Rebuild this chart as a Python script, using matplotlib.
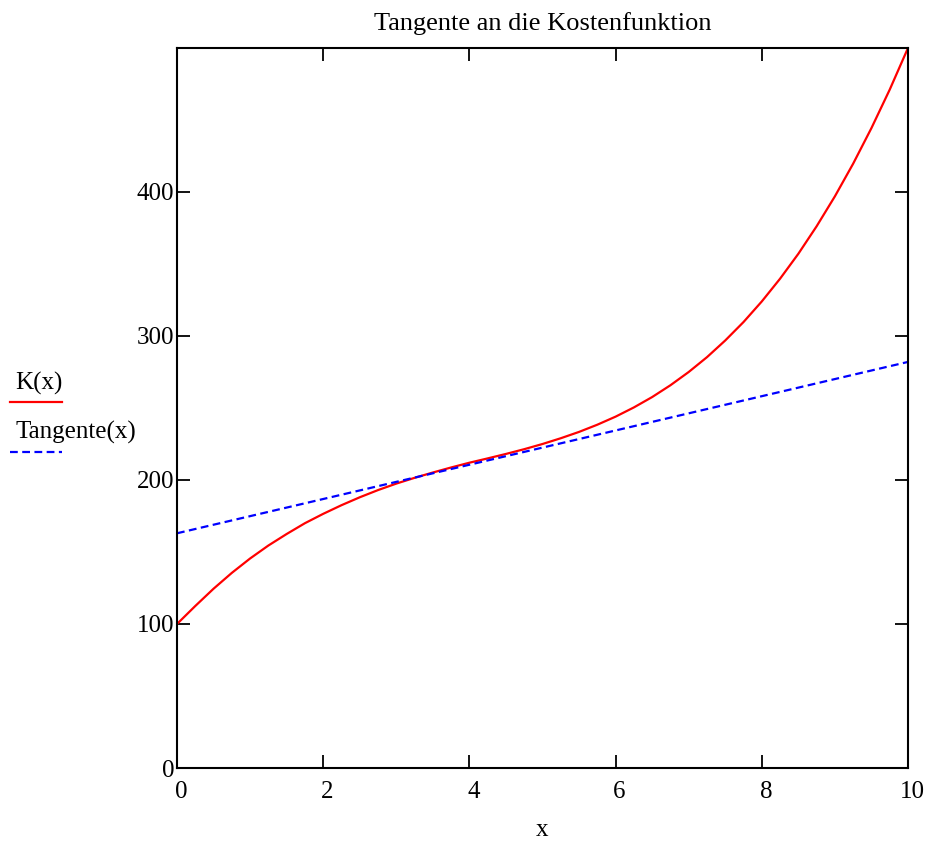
import numpy as np
import matplotlib.pyplot as plt
import matplotlib.transforms as mtransforms

plt.rcParams['font.family'] = ['Liberation Serif', 'DejaVu Serif']

# values
x_vals = [0, 0.25, 0.5, 0.75, 1, 1.25, 1.5, 1.75, 2, 2.25, 2.5, 2.75, 3, 3.25,
          3.5, 3.75, 4, 4.25, 4.5, 4.75, 5, 5.25, 5.5, 5.75, 6, 6.25, 6.5, 6.75,
          7, 7.25, 7.5, 7.75, 8, 8.25, 8.5, 8.75, 9, 9.25, 9.5, 9.75, 10]
k_vals = [100, 112.5, 124.5, 135.5, 145.5, 154.5, 162.5, 170, 176.5, 182.5,
          188, 193, 197.5, 201.5, 205.2, 208.7, 212, 215, 218.1, 221.4, 225,
          229, 233.4, 238.4, 244, 250.4, 257.6, 265.8, 275, 285.3, 296.9,
          309.7, 324, 339.8, 357.1, 376.2, 397, 419.7, 444.4, 471.1, 500]
tan_x = [0, 10]
tan_vals = [163, 282]

x_ticks = [0, 2, 4, 6, 8, 10]
y_ticks = [0, 100, 200, 300, 400]

fig = plt.figure(figsize=(9.29, 8.46), dpi=100)
ax = fig.add_axes([177/929, 1 - 768/846, 731/929, 720/846])

ax.plot(x_vals, k_vals, color='red', lw=1.6)
ax.plot(tan_x, tan_vals, color='blue', lw=1.6, ls=(0, (3.5, 2)))

ax.set_xlim(0, 10)
ax.set_ylim(0, 500)
ax.set_xticks(x_ticks)
ax.set_yticks(y_ticks)
ax.tick_params(direction='in', length=9.5, width=1.3, top=True, right=True,
               labelsize=18, colors='black')
ax.tick_params(axis='y', pad=2)
ax.tick_params(axis='x', pad=9)
for s in ax.spines.values():
    s.set_linewidth(1.5)

# x tick labels in the reference sit a little right of their ticks
offset = mtransforms.ScaledTranslation(4/100, 0, fig.dpi_scale_trans)
for lab in ax.get_xticklabels():
    lab.set_transform(lab.get_transform() + offset)

ax.set_title('Tangente an die Kostenfunktion', fontsize=19, pad=13)
ax.set_xlabel('x', fontsize=18, labelpad=12)

# legend drawn at the left, outside the axes
fig.text(15/929, 1 - 383/846, 'K(x)', fontsize=18, va='center', ha='left')
fig.add_artist(plt.Line2D([10/929, 62/929], [1 - 402/846, 1 - 402/846],
                          color='red', lw=1.6, transform=fig.transFigure))
fig.text(16/929, 1 - 432/846, 'Tangente(x)', fontsize=18, va='center', ha='left')
fig.add_artist(plt.Line2D([10/929, 62/929], [1 - 452/846, 1 - 452/846],
                          color='blue', lw=1.6, ls=(0, (3.5, 2)),
                          transform=fig.transFigure))

plt.savefig('out.png', dpi=100)
